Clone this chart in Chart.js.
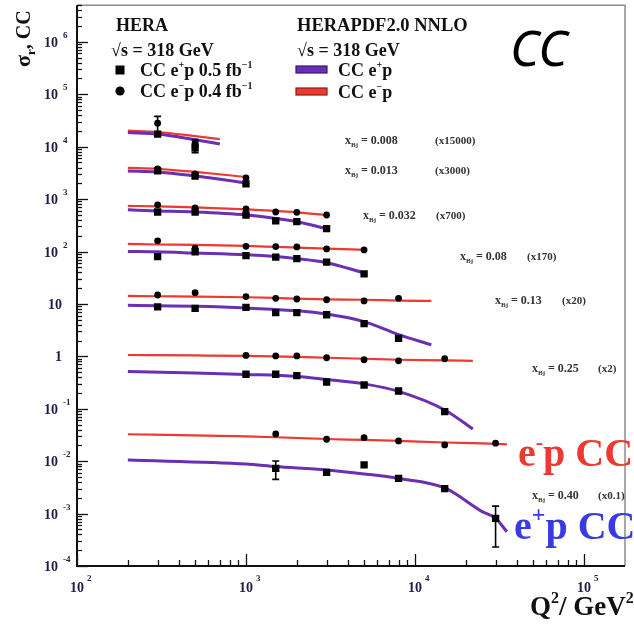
<!DOCTYPE html>
<html>
<head>
<meta charset="utf-8">
<script src="https://cdn.jsdelivr.net/npm/chart.js@4.4.1/dist/chart.umd.min.js"></script>
<style>
  html, body { margin: 0; padding: 0; background: #fff; }
  canvas { display: block; }
</style>
</head>
<body>
<canvas id="c" width="634" height="625"></canvas>
<script>
// HERA charged-current reduced cross sections vs Q^2, one row per x_Bj bin,
// each row multiplied by its offset factor for display.
const xBjLabels   = ['0.008', '0.013', '0.032', '0.08', '0.13', '0.25', '0.40'];
const scaleFactors = [15000, 3000, 700, 170, 20, 2, 0.1];
const scaleTexts  = ['(x15000)', '(x3000)', '(x700)', '(x170)', '(x20)', '(x2)', '(x0.1)'];

// Measured points (Q^2 in GeV^2), unscaled sigma_r
const dataQ2 = [
  [300, 500],
  [300, 500, 1000],
  [300, 500, 1000, 1500, 2000, 3000],
  [300, 500, 1000, 1500, 2000, 3000, 5000],
  [300, 500, 1000, 1500, 2000, 3000, 5000, 8000],
  [1000, 1500, 2000, 3000, 5000, 8000, 15000],
  [1500, 3000, 5000, 8000, 15000, 30000]
];
const sigmaEplus = [
  [1.16, 0.63],
  [1.15, 0.92, 0.65],
  [0.81, 0.81, 0.71, 0.55, 0.53, 0.39],
  [0.47, 0.58, 0.49, 0.46, 0.43, 0.37, 0.22],
  [0.44, 0.41, 0.43, 0.34, 0.34, 0.31, 0.21, 0.11],
  [0.228, 0.228, 0.214, 0.162, 0.142, 0.109, 0.044],
  [0.073, 0.061, 0.085, 0.047, 0.030, 0.0081]
];
const sigmaEminus = [
  [1.87, 0.79],
  [1.26, 1.01, 0.85],
  [1.11, 0.97, 0.93, 0.81, 0.80, 0.71],
  [0.94, 0.68, 0.74, 0.73, 0.72, 0.66, 0.63],
  [0.74, 0.82, 0.69, 0.64, 0.62, 0.60, 0.57, 0.64],
  [0.52, 0.51, 0.51, 0.47, 0.43, 0.41, 0.45],
  [0.331, 0.262, 0.281, 0.243, 0.204, 0.220]
];
// Total uncertainties (0 where the bar is hidden by the marker)
const errEplus = [
  [0, 0.12],
  [0, 0, 0],
  [0, 0, 0, 0, 0, 0],
  [0, 0, 0, 0, 0, 0, 0],
  [0, 0, 0, 0, 0, 0, 0, 0],
  [0, 0, 0, 0, 0, 0, 0],
  [0.028, 0, 0, 0, 0, 0.0058]
];
const errEminus = [
  [0.65, 0.12],
  [0, 0, 0],
  [0, 0, 0, 0, 0, 0],
  [0, 0, 0, 0, 0, 0, 0],
  [0, 0, 0, 0, 0, 0, 0, 0],
  [0, 0, 0, 0, 0, 0, 0],
  [0, 0, 0, 0, 0, 0]
];

// HERAPDF2.0 NNLO predictions, sampled along Q^2
const curveQ2 = [
  [200, 300, 500, 700],
  [200, 300, 500, 1000],
  [200, 300, 500, 1000, 1500, 2000, 3000],
  [200, 300, 500, 1000, 1500, 2000, 3000, 5000],
  [200, 300, 500, 1000, 1500, 2000, 3000, 5000, 8000, 12500],
  [200, 500, 1000, 2000, 3000, 5000, 8000, 15000, 22000],
  [200, 1000, 1500, 3000, 5000, 8000, 15000, 25000, 30000, 35000]
];
const fitEplus = [
  [1.24, 1.16, 0.90, 0.75],
  [1.15, 1.10, 0.92, 0.68],
  [0.89, 0.85, 0.81, 0.71, 0.61, 0.53, 0.39],
  [0.59, 0.58, 0.55, 0.51, 0.47, 0.43, 0.36, 0.23],
  [0.47, 0.46, 0.45, 0.42, 0.39, 0.37, 0.32, 0.23, 0.13, 0.083],
  [0.257, 0.241, 0.226, 0.207, 0.181, 0.149, 0.107, 0.0474, 0.0206],
  [0.105, 0.0884, 0.0792, 0.0679, 0.0570, 0.0467, 0.0308, 0.0109, 0.0081, 0.0045]
];
const fitEminus = [
  [1.35, 1.27, 1.06, 0.93],
  [1.31, 1.26, 1.10, 0.88],
  [1.06, 1.04, 0.99, 0.91, 0.85, 0.80, 0.71],
  [0.82, 0.80, 0.79, 0.75, 0.72, 0.70, 0.67, 0.63],
  [0.71, 0.70, 0.69, 0.67, 0.65, 0.63, 0.61, 0.60, 0.58, 0.57],
  [0.53, 0.52, 0.51, 0.49, 0.47, 0.45, 0.43, 0.42, 0.41],
  [0.326, 0.296, 0.286, 0.265, 0.254, 0.243, 0.227, 0.218, 0.213, 0.210]
];

const xDecades = [2, 3, 4, 5];
const yDecades = [-4, -3, -2, -1, 0, 1, 2, 3, 4, 5, 6];

const SERIF = "'Liberation Serif', 'DejaVu Serif', serif";
const RED = '#ec3a33';
const PURPLE = '#6a2fb2';
const TICK_TXT = '#1d1d45';

function scaled(qs, vs, f) {
  return qs.map((q, i) => ({ x: q, y: vs[i] * f }));
}

const datasets = [];
for (let b = 0; b < xBjLabels.length; b++) {
  const f = scaleFactors[b];
  datasets.push({
    label: 'CC e+p data', data: scaled(dataQ2[b], sigmaEplus[b], f),
    pointStyle: 'rect', pointRadius: 5.2, backgroundColor: '#000', borderColor: '#000',
    borderWidth: 0, showLine: false, order: 0
  });
  datasets.push({
    label: 'CC e-p data', data: scaled(dataQ2[b], sigmaEminus[b], f),
    pointStyle: 'circle', pointRadius: 3.4, backgroundColor: '#000', borderColor: '#000',
    borderWidth: 0, showLine: false, order: 0
  });
  datasets.push({
    label: 'HERAPDF2.0 e-p', data: scaled(curveQ2[b], fitEminus[b], f),
    showLine: true, borderColor: RED, borderWidth: 2.2, pointRadius: 0,
    cubicInterpolationMode: 'monotone', fill: false, order: 2
  });
  datasets.push({
    label: 'HERAPDF2.0 e+p', data: scaled(curveQ2[b], fitEplus[b], f),
    showLine: true, borderColor: PURPLE, borderWidth: 3, pointRadius: 0,
    cubicInterpolationMode: 'monotone', fill: false, order: 1
  });
}

// Draw a sequence of text runs (base, sub- and superscripts) left to right.
function runsWidth(ctx, runs) {
  let w = 0;
  for (const r of runs) {
    ctx.font = `${r.w || 'bold'} ${r.s}px ${r.f || SERIF}`;
    w += ctx.measureText(r.t).width + (r.gap || 0);
  }
  return w;
}
function drawRuns(ctx, x, y, runs, color, align) {
  let cx = x;
  if (align === 'right') cx = x - runsWidth(ctx, runs);
  else if (align === 'center') cx = x - runsWidth(ctx, runs) / 2;
  ctx.textBaseline = 'alphabetic';
  ctx.textAlign = 'left';
  for (const r of runs) {
    ctx.font = `${r.w || 'bold'} ${r.s}px ${r.f || SERIF}`;
    ctx.fillStyle = r.c || color;
    ctx.fillText(r.t, cx, y + (r.dy || 0));
    cx += ctx.measureText(r.t).width + (r.gap || 0);
  }
  return cx;
}

const errorBars = {
  id: 'errorBars',
  afterDatasetsDraw(chart) {
    const { ctx, scales: { x: sx, y: sy } } = chart;
    ctx.save();
    ctx.strokeStyle = '#000';
    ctx.lineWidth = 1.6;
    const sets = [[sigmaEplus, errEplus], [sigmaEminus, errEminus]];
    for (let b = 0; b < dataQ2.length; b++) {
      const f = scaleFactors[b];
      for (const [vals, errs] of sets) {
        dataQ2[b].forEach((q, i) => {
          const e = errs[b][i];
          if (!e) return;
          const px = sx.getPixelForValue(q);
          const top = sy.getPixelForValue((vals[b][i] + e) * f);
          const bot = sy.getPixelForValue(Math.max(vals[b][i] - e, 1e-9) * f);
          ctx.beginPath();
          ctx.moveTo(px, top); ctx.lineTo(px, bot);
          ctx.moveTo(px - 3.5, top); ctx.lineTo(px + 3.5, top);
          ctx.moveTo(px - 3.5, bot); ctx.lineTo(px + 3.5, bot);
          ctx.stroke();
        });
      }
    }
    ctx.restore();
  }
};

// Positions of the x_Bj bin captions (left edge, text baseline, offset of the factor)
const captionLayout = [
  [345, 144, 90], [345, 174, 90], [363, 219, 73], [460, 260, 67],
  [495, 304, 67], [532, 372, 66], [532, 499, 66]
];

const decor = {
  id: 'decor',
  afterDraw(chart) {
    const { ctx, chartArea: a, scales: { x: sx, y: sy } } = chart;
    ctx.save();

    // frame
    ctx.strokeStyle = '#8c8c8c';
    ctx.lineWidth = 1.5;
    ctx.beginPath();
    ctx.moveTo(a.left, a.top); ctx.lineTo(a.right, a.top); ctx.lineTo(a.right, a.bottom);
    ctx.stroke();
    ctx.strokeStyle = '#111';
    ctx.lineWidth = 2;
    ctx.beginPath();
    ctx.moveTo(a.left, a.top); ctx.lineTo(a.left, a.bottom); ctx.lineTo(a.right, a.bottom);
    ctx.stroke();

    // inward ticks
    ctx.lineWidth = 1.3;
    for (const k of yDecades) {
      for (let m = 1; m <= 9; m++) {
        const v = m * Math.pow(10, k);
        if (v > sy.max * 1.0001) break;
        const py = Math.round(sy.getPixelForValue(v)) + 0.5;
        ctx.beginPath();
        ctx.moveTo(a.left, py); ctx.lineTo(a.left + (m === 1 ? 11 : 5), py);
        ctx.stroke();
      }
    }
    for (const k of xDecades) {
      for (let m = 1; m <= 9; m++) {
        const v = m * Math.pow(10, k);
        if (v > sx.max * 1.0001) break;
        const px = Math.round(sx.getPixelForValue(v)) + 0.5;
        ctx.beginPath();
        ctx.moveTo(px, a.bottom); ctx.lineTo(px, a.bottom - (m === 1 ? 12 : 6));
        ctx.stroke();
      }
    }

    // tick labels
    for (const k of yDecades) {
      const py = sy.getPixelForValue(Math.pow(10, k));
      if (k === 0 || k === 1) {
        drawRuns(ctx, 62, py + 5, [{ t: k === 0 ? '1' : '10', s: 14 }], TICK_TXT, 'right');
      } else {
        drawRuns(ctx, 58, py + 5, [{ t: '10', s: 14 }], TICK_TXT, 'right');
        drawRuns(ctx, 63, py - 4, [{ t: String(k), s: 9 }], TICK_TXT, 'left');
      }
    }
    for (const k of xDecades) {
      const px = sx.getPixelForValue(Math.pow(10, k));
      drawRuns(ctx, px, a.bottom + 26, [{ t: '10', s: 14 }], TICK_TXT, 'center');
      drawRuns(ctx, px + 10, a.bottom + 15, [{ t: String(k), s: 9 }], TICK_TXT, 'left');
    }

    // axis titles
    ctx.save();
    ctx.translate(30, 67);
    ctx.rotate(-Math.PI / 2);
    drawRuns(ctx, 0, 0, [
      { t: '\u03c3', s: 22 }, { t: 'r', s: 13, dy: 5 }, { t: ', CC', s: 20 }
    ], '#111', 'left');
    ctx.restore();
    drawRuns(ctx, 530, 615, [
      { t: 'Q', s: 27 }, { t: '2', s: 16, dy: -12 }, { t: '/ GeV', s: 27 }, { t: '2', s: 16, dy: -12 }
    ], '#111', 'left');

    // legend: data
    drawRuns(ctx, 116, 31, [{ t: 'HERA', s: 18 }], '#111');
    drawRuns(ctx, 111, 56, [{ t: '\u221as = 318 GeV', s: 18 }], '#111');
    ctx.fillStyle = '#000';
    ctx.fillRect(115.5, 65.5, 9, 9);
    ctx.beginPath(); ctx.arc(120, 91, 4.6, 0, Math.PI * 2); ctx.fill();
    drawRuns(ctx, 140, 76, [
      { t: 'CC e', s: 18 }, { t: '+', s: 10, dy: -8 }, { t: 'p 0.5 fb', s: 18 }, { t: '\u22121', s: 10, dy: -8 }
    ], '#111');
    drawRuns(ctx, 140, 97, [
      { t: 'CC e', s: 18 }, { t: '\u2212', s: 10, dy: -8 }, { t: 'p 0.4 fb', s: 18 }, { t: '\u22121', s: 10, dy: -8 }
    ], '#111');

    // legend: predictions
    drawRuns(ctx, 297, 31, [{ t: 'HERAPDF2.0 NNLO', s: 18.5 }], '#111');
    drawRuns(ctx, 297, 56, [{ t: '\u221as = 318 GeV', s: 18 }], '#111');
    ctx.lineWidth = 1.2;
    ctx.fillStyle = PURPLE; ctx.strokeStyle = '#3a1670';
    ctx.fillRect(296, 66, 31, 7); ctx.strokeRect(296, 66, 31, 7);
    ctx.fillStyle = RED; ctx.strokeStyle = '#8a1a14';
    ctx.fillRect(296, 88, 31, 7); ctx.strokeRect(296, 88, 31, 7);
    drawRuns(ctx, 338, 76, [{ t: 'CC e', s: 18 }, { t: '+', s: 10, dy: -8 }, { t: 'p', s: 18 }], '#111');
    drawRuns(ctx, 338, 98, [{ t: 'CC e', s: 18 }, { t: '\u2212', s: 10, dy: -8 }, { t: 'p', s: 18 }], '#111');

    // x_Bj captions
    xBjLabels.forEach((lab, b) => {
      const [lx, ly, off] = captionLayout[b];
      drawRuns(ctx, lx, ly, [
        { t: 'x', s: 12 }, { t: 'Bj', s: 7, dy: 3 }, { t: ' = ' + lab, s: 12 }
      ], '#333');
      drawRuns(ctx, lx + off, ly, [{ t: scaleTexts[b], s: 11 }], '#333');
    });

    // process tags
    ctx.font = "italic 50px 'Noto Sans', sans-serif";
    ctx.fillStyle = '#000';
    ctx.textAlign = 'left';
    ctx.fillText('CC', 510, 66);
    drawRuns(ctx, 518, 466, [
      { t: 'e', s: 40 }, { t: '-', s: 22, dy: -17 }, { t: 'p CC', s: 40 }
    ], RED);
    drawRuns(ctx, 514, 539, [
      { t: 'e', s: 40 }, { t: '+', s: 24, dy: -17 }, { t: 'p CC', s: 40 }
    ], '#3a3ae4');

    ctx.restore();
  }
};

new Chart(document.getElementById('c'), {
  type: 'scatter',
  data: { datasets },
  options: {
    responsive: false,
    devicePixelRatio: 1,
    animation: false,
    layout: { padding: { left: 77, right: 9, top: 5, bottom: 59 } },
    scales: {
      x: { type: 'logarithmic', min: 100, max: 175000, display: false },
      y: { type: 'logarithmic', min: 1e-4, max: 5e6, display: false }
    },
    plugins: { legend: { display: false }, tooltip: { enabled: false } }
  },
  plugins: [errorBars, decor]
});
</script>
</body>
</html>
